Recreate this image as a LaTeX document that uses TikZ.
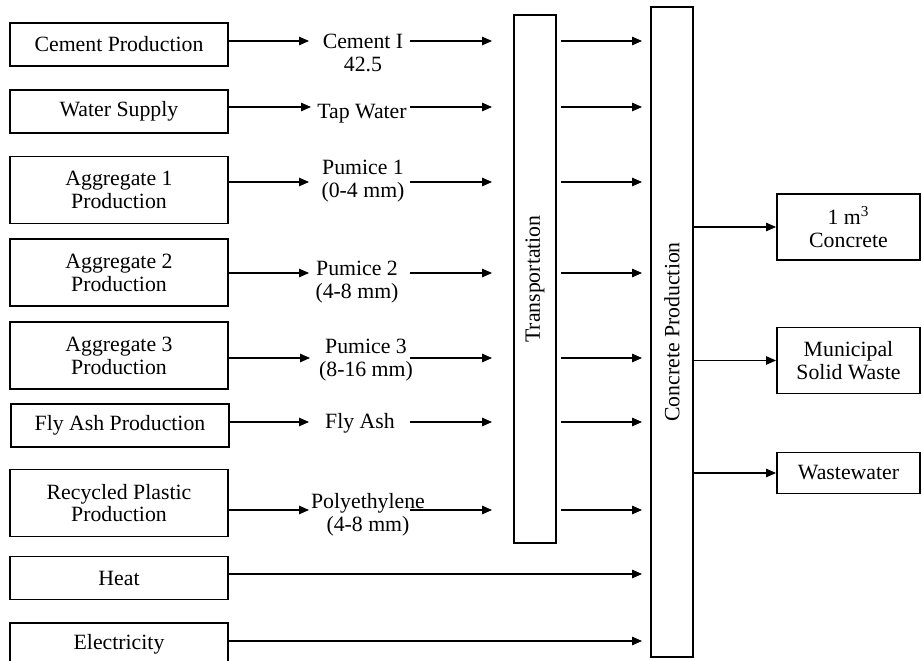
\documentclass[tikz,border=0pt]{standalone}
\usepackage{fontspec}
\setmainfont{Liberation Serif}
\usetikzlibrary{arrows.meta}

\begin{document}
\begin{tikzpicture}[x=0.02cm,y=-0.02cm,
  font=\fontsize{12.4}{13}\selectfont,
  box/.style={draw,line width=1.1pt,minimum width=4.36cm,minimum height=0.86cm,align=center,inner sep=1pt},
  tall/.style={box,minimum height=1.34cm},
  outbox/.style={box,minimum width=2.86cm,minimum height=1.32cm},
  bar/.style={draw,line width=1.1pt,minimum width=0.84cm,inner sep=0pt},
  flow/.style={align=center,inner sep=1pt},
  arr/.style={-{Triangle[length=0.2cm,width=0.17cm]},line width=0.6pt}]

\useasboundingbox (0,0) rectangle (922,661);
\clip (0,0) rectangle (922,661);

\node[box] (cem) at (119,44.5) {Cement Production};
\node[box] (wat) at (119,111.5) {Water Supply};
\node[tall] (agg1) at (119,190) {Aggregate 1\\Production};
\node[tall] (agg2) at (119,272.5) {Aggregate 2\\Production};
\node[tall] (agg3) at (119,355.5) {Aggregate 3\\Production};
\node[box] (fly) at (120,425.5) {Fly Ash Production};
\node[tall] (plas) at (119,503) {Recycled Plastic\\Production};
\node[box] (heat) at (119,578) {Heat};
\node[box] (elec) at (119,644.5) {Electricity};

\node[flow] (cemL) at (363,53) {Cement I\\42.5};
\node[flow] (tapL) at (362,114) {Tap Water};
\node[flow] (pum1L) at (363,181) {Pumice 1\\(0-4 mm)};
\node[flow] (pum2L) at (357,282) {Pumice 2\\(4-8 mm)};
\node[flow] (pum3L) at (366,360) {Pumice 3\\(8-16 mm)};
\node[flow] (flyL) at (360,423) {Fly Ash};
\node[flow] (polyL) at (368,515) {Polyethylene\\(4-8 mm)};

\node[bar,minimum height=10.56cm] (trans) at (535,279) {};
\node[rotate=90] (transT) at (trans.center) {Transportation};

\node[bar,minimum height=13cm] (conc) at (672,332) {};
\node[rotate=90] (concT) at (conc.center) {Concrete Production};

\node[outbox] (cube) at (848.5,227) {1 m\textsuperscript{3}\\Concrete};
\node[outbox] (msw) at (848.5,360.5) {Municipal\\Solid Waste};
\node[outbox,minimum height=0.82cm] (ww) at (848.5,473) {Wastewater};

% arrow tips in front of the flow labels, and starts behind them
\coordinate (tip1) at (309,41);
\coordinate (tip2) at (311,107);
\coordinate (tip3) at (309,182);
\coordinate (tip4) at (309,273);
\coordinate (tip5) at (310,358);
\coordinate (tip6) at (309,422);
\coordinate (tip7) at (309,510);
\coordinate (tip8) at (309,574);
\coordinate (tip9) at (309,641);
\coordinate (mid) at (410,0);

\draw[arr] (cem.east |- tip1) -- (tip1);
\draw[arr] (wat.east |- tip2) -- (tip2);
\draw[arr] (agg1.east |- tip3) -- (tip3);
\draw[arr] (agg2.east |- tip4) -- (tip4);
\draw[arr] (agg3.east |- tip5) -- (tip5);
\draw[arr] (fly.east |- tip6) -- (tip6);
\draw[arr] (plas.east |- tip7) -- (tip7);

\draw[arr,shorten >=0.42cm] (mid |- tip1) -- (trans.west |- tip1);
\draw[arr,shorten >=0.42cm] (mid |- tip2) -- (trans.west |- tip2);
\draw[arr,shorten >=0.42cm] (mid |- tip3) -- (trans.west |- tip3);
\draw[arr,shorten >=0.42cm] (mid |- tip4) -- (trans.west |- tip4);
\draw[arr,shorten >=0.42cm] (mid |- tip5) -- (trans.west |- tip5);
\draw[arr,shorten >=0.42cm] (mid |- tip6) -- (trans.west |- tip6);
\draw[arr,shorten >=0.42cm] (mid |- tip7) -- (trans.west |- tip7);

\draw[arr,shorten <=0.08cm,shorten >=0.16cm] (trans.east |- tip1) -- (conc.west |- tip1);
\draw[arr,shorten <=0.08cm,shorten >=0.16cm] (trans.east |- tip2) -- (conc.west |- tip2);
\draw[arr,shorten <=0.08cm,shorten >=0.16cm] (trans.east |- tip3) -- (conc.west |- tip3);
\draw[arr,shorten <=0.08cm,shorten >=0.16cm] (trans.east |- tip4) -- (conc.west |- tip4);
\draw[arr,shorten <=0.08cm,shorten >=0.16cm] (trans.east |- tip5) -- (conc.west |- tip5);
\draw[arr,shorten <=0.08cm,shorten >=0.16cm] (trans.east |- tip6) -- (conc.west |- tip6);
\draw[arr,shorten <=0.08cm,shorten >=0.16cm] (trans.east |- tip7) -- (conc.west |- tip7);

\draw[arr,shorten >=0.16cm] (heat.east |- tip8) -- (conc.west |- tip8);
\draw[arr,shorten >=0.16cm] (elec.east |- tip9) -- (conc.west |- tip9);

\draw[arr] (conc.east |- cube.west) -- (cube.west);
\draw[arr] (conc.east |- msw.west) -- (msw.west);
\draw[arr] (conc.east |- ww.west) -- (ww.west);

\end{tikzpicture}
\end{document}
